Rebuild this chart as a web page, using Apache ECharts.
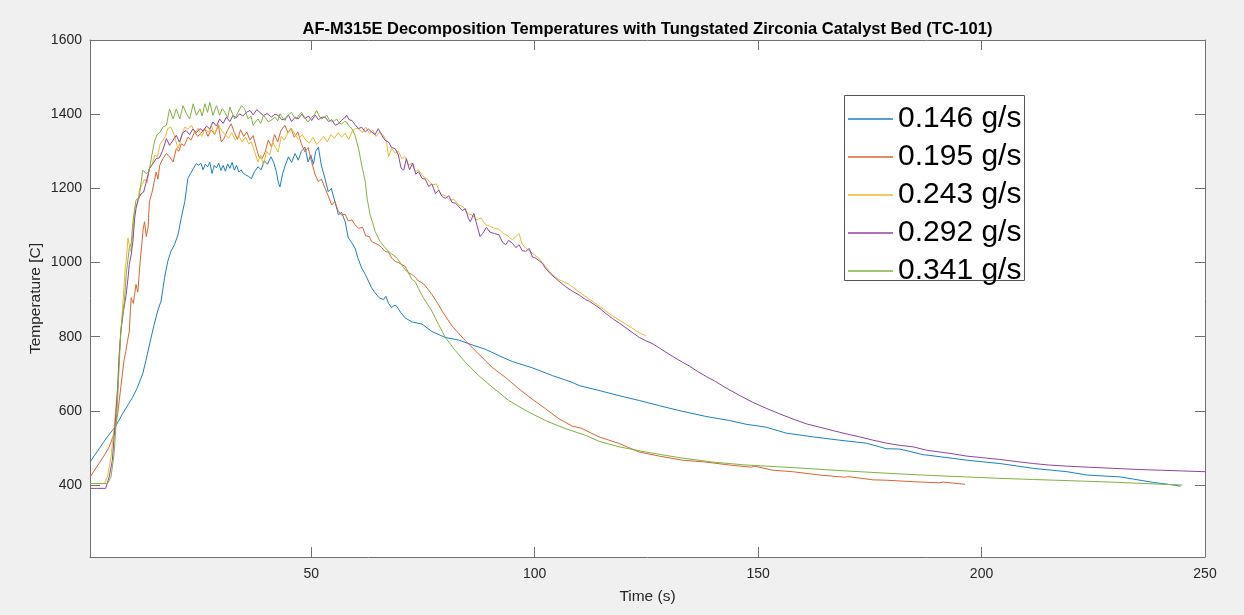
<!DOCTYPE html>
<html>
<head>
<meta charset="utf-8">
<script src="https://cdn.jsdelivr.net/npm/echarts@6/dist/echarts.min.js"></script>
<style>
html,body{margin:0;padding:0;background:#f0f0f0;}
#chart{width:1244px;height:615px;}
</style>
</head>
<body>
<div id="chart"></div>
<script>
const seriesNames = ['0.146 g/s', '0.195 g/s', '0.243 g/s', '0.292 g/s', '0.341 g/s'];
const xTicks = [50, 100, 150, 200, 250];
const yTicks = [400, 600, 800, 1000, 1200, 1400, 1600];

// [time (s), temperature (C)]
const flow0146 = [[0.5,462],[1.5,480],[2.5,497],[3.5,515],[4.5,532],[5.5,547],[6.3,560],[7,575],[8,597],[9.2,620],[10,636],[11,660],[12.3,700],[13,735],[14.1,794],[14.8,830],[15.7,872],[16.4,896],[17.2,960],[17.9,1003],[18.6,1030],[19.4,1048],[20.2,1075],[20.9,1119],[21.7,1164],[22.4,1227],[23,1240],[23.6,1253],[24.3,1267],[24.8,1262],[25.3,1268],[25.8,1250],[26.3,1265],[26.8,1258],[27.3,1270],[27.8,1240],[28.3,1262],[28.8,1255],[29.3,1268],[29.8,1248],[30.3,1262],[30.8,1246],[31.3,1266],[31.8,1254],[32.3,1270],[32.8,1249],[33.3,1262],[33.8,1244],[34.3,1250],[34.8,1240],[35.4,1236],[36,1232],[36.6,1226],[37.3,1245],[38.1,1258],[38.8,1250],[39.5,1275],[40.2,1265],[41,1285],[41.6,1270],[42.2,1245],[42.6,1218],[43,1204],[43.6,1240],[44.2,1262],[44.9,1285],[45.6,1270],[46.4,1294],[47.1,1276],[47.8,1300],[48.6,1311],[49.3,1271],[49.9,1290],[50.5,1265],[51,1300],[51.6,1311],[52.3,1260],[53.1,1226],[53.8,1191],[54.5,1200],[55.3,1164],[56.1,1129],[56.8,1135],[57.6,1110],[58.3,1066],[59,1055],[59.8,1039],[60.5,1010],[61.3,985],[62.1,968],[62.8,950],[63.5,932],[64.3,918],[65.2,905],[66.2,900],[66.7,909],[67.3,890],[68,878],[68.5,884],[69,884],[70,866],[71,851],[72.5,840],[74.8,834],[77,814],[80,798],[83,791],[86,778],[89,766],[92,749],[95,733],[99.5,716],[104,695],[108.4,677],[110,668],[114.4,655],[118.9,641],[123.4,628],[127.9,614],[132.3,601],[138.3,585],[143.6,574],[147.3,564],[151.8,556],[156.3,540],[162.2,530],[168.2,521],[174.2,513],[178.7,498],[181.7,497],[186.9,482],[191,476],[196.7,467],[204.1,458],[211.6,445],[219.1,436],[223.6,427],[228,424],[231,422],[234,416],[238.5,407],[243,400],[244.5,397]];

const flow0195 = [[0.5,421],[1.5,440],[2.5,458],[3.7,480],[4.8,503],[5.9,539],[6.7,592],[7.4,664],[8.1,735],[8.5,760],[8.9,789],[9.3,815],[9.7,905],[10.2,890],[10.8,941],[11.2,920],[11.6,985],[12,1039],[12.4,1090],[12.7,1110],[13.1,1070],[13.5,1095],[13.8,1164],[14.4,1190],[15.3,1244],[15.7,1225],[16.1,1262],[16.8,1280],[17.6,1294],[18.3,1285],[19.1,1271],[19.8,1307],[20.4,1300],[20.9,1320],[21.6,1315],[22.4,1338],[23.1,1330],[23.9,1352],[24.6,1340],[25.3,1348],[26.2,1361],[26.9,1340],[27.6,1358],[28.4,1345],[29.2,1370],[29.9,1325],[30.5,1335],[31.2,1355],[32.1,1374],[32.8,1350],[33.5,1332],[34.2,1358],[34.9,1340],[35.6,1352],[36.3,1330],[37,1342],[37.7,1310],[38.3,1285],[39,1280],[39.7,1298],[40.4,1330],[41.1,1312],[41.8,1345],[42.5,1325],[43.2,1355],[44.1,1370],[44.8,1350],[45.5,1362],[46.2,1338],[47,1352],[47.8,1320],[48.6,1298],[49.3,1310],[50.1,1271],[50.9,1236],[51.6,1218],[52.3,1225],[53.1,1200],[53.8,1180],[54.6,1155],[55.3,1165],[56,1140],[56.8,1128],[57.6,1130],[58.3,1112],[59.1,1115],[59.8,1102],[60.6,1092],[61.5,1095],[62.2,1072],[63,1070],[63.5,1057],[64.3,1052],[65,1048],[65.8,1040],[66.5,1030],[67.3,1028],[68,1012],[68.8,1003],[69.5,1000],[70.3,994],[71,990],[71.8,972],[72.5,968],[73.3,960],[74,950],[74.8,945],[75.5,938],[77,914],[78.2,892],[79.3,869],[81.5,829],[84.5,789],[87.5,753],[90.5,717],[93.5,690],[96.5,659],[99.4,632],[102.4,606],[105.4,579],[108.4,559],[110.5,553],[112.5,541],[114.4,530],[118.9,512],[123.4,489],[127.9,478],[133.1,467],[138.3,462],[143.6,454],[148.5,448],[149.2,451],[153.3,440],[157.7,436],[163.8,427],[169.5,421],[170,423],[175.7,414],[178.7,413],[184.7,409],[190.5,406],[191.4,408],[196.3,402]];

const flow0243 = [[0.5,404],[2,404],[3.7,404],[4.4,422],[5.2,476],[5.9,556],[6.7,664],[7,744],[7.4,815],[7.8,880],[8.1,932],[8.4,990],[8.6,1003],[9,1066],[9.4,1040],[9.7,1030],[10.1,1080],[10.5,1146],[11.2,1164],[11.6,1200],[12.2,1210],[12.7,1225],[13.3,1215],[13.8,1253],[14.4,1265],[15,1290],[15.6,1285],[16.2,1320],[16.8,1329],[17.4,1340],[17.9,1361],[18.6,1365],[19.3,1345],[20.2,1307],[20.6,1320],[21,1345],[21.7,1365],[22.4,1360],[23.2,1370],[24,1350],[24.7,1362],[25.5,1340],[26.2,1360],[27,1352],[27.7,1368],[28.4,1345],[29.2,1372],[30,1355],[30.7,1345],[31.5,1335],[32.2,1350],[33,1330],[33.8,1342],[34.5,1325],[35.3,1338],[36,1320],[36.6,1325],[37.3,1300],[38.1,1271],[38.7,1290],[39.3,1262],[40,1300],[40.7,1290],[41.4,1325],[42,1310],[42.6,1298],[43.3,1340],[44,1330],[44.8,1350],[45.6,1361],[46.4,1345],[47.1,1332],[48,1345],[48.8,1330],[49.6,1322],[50.4,1338],[51.2,1318],[52,1328],[52.8,1340],[53.6,1325],[54.4,1345],[55.2,1335],[56,1350],[56.8,1338],[57.6,1348],[58.4,1332],[59.2,1355],[60,1362],[60.6,1361],[61.4,1350],[62.2,1365],[63,1348],[63.8,1356],[64.5,1340],[65.3,1352],[66,1345],[66.8,1330],[67.3,1285],[68,1307],[68.8,1295],[69.5,1300],[70.3,1280],[71,1285],[71.8,1262],[72.5,1268],[73.3,1245],[74,1250],[75,1232],[76,1225],[77,1209],[78,1212],[79,1185],[80,1180],[81,1168],[82,1170],[83,1155],[84,1150],[85,1132],[86,1128],[87,1115],[88,1120],[89,1102],[90,1098],[91,1092],[92,1090],[93,1078],[94,1072],[95,1061],[95.8,1070],[96.5,1078],[97.2,1050],[98,1039],[99.5,1025],[100.9,1012],[102.4,990],[103.9,968],[105.4,954],[107.7,941],[110.7,914],[114.4,883],[117.4,856],[120.4,834],[123.4,811],[124.9,802]];

const flow0292 = [[0.5,391],[2,391],[4,391],[4.8,422],[5.5,467],[5.9,530],[6.3,592],[6.7,664],[7,744],[7.4,815],[8,870],[8.6,914],[9,958],[9.3,995],[9.7,1020],[10.1,1057],[10.5,1120],[10.8,1146],[11.3,1170],[11.9,1185],[12.5,1190],[13.1,1218],[13.8,1253],[14.5,1265],[15.3,1280],[16,1282],[16.7,1300],[17.6,1334],[18.3,1316],[19.1,1330],[19.8,1343],[20.5,1325],[21.3,1350],[22,1356],[22.8,1345],[23.5,1360],[24.3,1350],[25.1,1361],[25.8,1355],[26.6,1368],[27.3,1360],[28,1379],[28.8,1368],[29.5,1387],[30.3,1375],[31,1392],[31.8,1380],[32.5,1397],[33.2,1390],[34,1401],[34.7,1395],[35.5,1405],[36.3,1410],[37,1398],[37.8,1412],[38.5,1405],[39.3,1396],[40.1,1402],[41.1,1392],[41.9,1400],[42.6,1397],[43.4,1385],[44.1,1387],[44.9,1398],[45.6,1380],[46.4,1392],[47.1,1387],[47.9,1400],[48.6,1388],[49.4,1395],[50.1,1383],[50.9,1398],[51.6,1385],[52.4,1392],[53.1,1392],[53.9,1380],[54.6,1385],[55.4,1370],[56.1,1374],[56.9,1385],[57.5,1390],[57.9,1397],[58.5,1385],[59.1,1383],[59.8,1372],[60.6,1361],[61.3,1365],[62.1,1352],[62.8,1360],[63.5,1352],[64.3,1345],[65,1361],[65.8,1343],[66.5,1330],[67.3,1325],[68,1310],[68.8,1307],[69.5,1290],[70.1,1255],[70.7,1249],[71.3,1280],[72,1250],[72.7,1268],[73.4,1238],[74,1245],[74.8,1227],[75.5,1225],[76.3,1205],[77,1212],[77.8,1186],[78.5,1195],[79.3,1178],[80,1173],[80.8,1180],[81.5,1162],[82.3,1160],[83,1151],[83.8,1140],[84.5,1145],[85.2,1118],[85.6,1110],[86.4,1132],[87.1,1100],[87.8,1070],[88.4,1079],[89.2,1095],[90,1082],[91,1078],[92,1075],[92.8,1055],[93.5,1048],[94.2,1060],[95,1052],[95.8,1040],[96.5,1048],[97.2,1032],[98,1030],[98.8,1038],[99.5,1015],[100.2,1012],[101,1005],[101.7,998],[102.4,985],[103.5,970],[105.4,950],[106.9,935],[108.4,923],[110,912],[111.4,900],[112.2,896],[114.4,878],[116,862],[117.4,849],[119,836],[120.4,824],[122,810],[123.4,798],[124.9,789],[126.4,781],[128,769],[129.4,758],[131,746],[133.1,731],[134.6,721],[136.5,706],[138.5,692],[140.5,679],[142.8,662],[145.8,642],[148.8,623],[151.8,607],[154.8,592],[157.8,578],[160.8,565],[163.8,556],[166.7,547],[169.7,538],[172.7,530],[175.7,521],[178.7,513],[181.7,507],[184.7,503],[187.7,494],[190.7,489],[193.7,484],[196.7,478],[200,474],[204.1,469],[208,463],[211.6,458],[215,454],[219.1,451],[224,448],[229.6,445],[235,442],[240,440],[245,438],[250,436]];

const flow0341 = [[0.5,404],[2,404],[4.4,404],[5.2,422],[5.9,485],[6.3,556],[6.7,637],[7,717],[7.4,815],[7.8,860],[8.2,896],[8.6,968],[9.3,1039],[9.7,1050],[10.1,1110],[10.8,1169],[11.5,1175],[12.3,1249],[13.1,1240],[13.7,1245],[14.2,1280],[14.9,1325],[15.5,1345],[16.1,1350],[16.8,1365],[17.6,1370],[18.3,1414],[19.1,1387],[19.8,1414],[20.6,1387],[21.3,1423],[22.1,1401],[22.8,1387],[23.6,1428],[24.3,1397],[25.1,1414],[25.6,1395],[26.2,1428],[26.8,1405],[27.3,1432],[28,1397],[28.8,1423],[29.5,1397],[30.1,1415],[30.7,1405],[31.3,1390],[31.8,1419],[32.4,1400],[32.9,1387],[33.6,1405],[34.4,1423],[35.1,1414],[35.9,1387],[36.5,1395],[37,1370],[37.6,1380],[38.1,1387],[38.7,1375],[39.3,1397],[39.8,1390],[40.4,1379],[41.2,1385],[41.9,1392],[42.5,1382],[43,1401],[43.6,1390],[44.1,1383],[44.9,1398],[45.6,1405],[46.2,1392],[46.7,1387],[47.3,1398],[47.8,1405],[48.6,1390],[49.3,1379],[50.1,1392],[50.7,1398],[51.2,1410],[51.8,1395],[52.3,1387],[52.9,1392],[53.5,1397],[54,1385],[54.6,1379],[55.2,1382],[55.7,1387],[56.3,1375],[56.8,1374],[57.4,1380],[57.9,1379],[58.5,1368],[59.1,1361],[59.8,1343],[60.2,1325],[60.6,1307],[61.3,1262],[62.1,1218],[62.5,1173],[63.2,1128],[63.8,1105],[64.3,1084],[65.4,1057],[66.5,1040],[67.8,1025],[69.2,1012],[70,998],[71,981],[71.8,972],[72.5,955],[73.3,948],[74,930],[75.1,905],[76,888],[77,869],[78.5,833],[80,798],[82.3,762],[84.5,731],[87.5,695],[90.5,664],[94.2,628],[98,601],[102.4,574],[106.9,552],[111.4,534],[114.4,518],[118.9,503],[124.9,489],[132.3,474],[139.8,462],[147.3,454],[157.8,447],[169.7,438],[181.7,430],[192.2,424],[196.6,422],[204.1,418],[211.6,415],[226.6,409],[244.9,400]];

const seriesData = [flow0146, flow0195, flow0243, flow0292, flow0341];
const colors = ['#1a7fc6', '#dc6430', '#eeb930', '#8c45a0', '#80b340'];

const chart = echarts.init(document.getElementById('chart'), null, {renderer: 'canvas'});
const axisGray = '#707070';
const labelColor = '#262626';
const fontFam = '"Liberation Sans", Arial, Helvetica, sans-serif';

function xAxisDef(pos, showLabel) {
  return {
    type: 'value', position: pos, min: 0.5, max: 250,
    axisLine: {show: true, onZero: false, lineStyle: {color: axisGray, width: 1}},
    axisTick: {show: true, inside: true, length: 10, customValues: xTicks, lineStyle: {color: axisGray, width: 1}},
    axisLabel: {show: showLabel, customValues: xTicks, color: labelColor, fontSize: 14, fontFamily: fontFam, margin: 10,
      formatter: v => String(v)},
    splitLine: {show: false},
    name: showLabel ? 'Time (s)' : '', nameLocation: 'middle', nameGap: 32, nameMoveOverlap: false,
    nameTextStyle: {color: labelColor, fontSize: 15.5, fontFamily: fontFam}
  };
}
function yAxisDef(pos, showLabel) {
  return {
    type: 'value', position: pos, min: 206, max: 1600,
    axisLine: {show: true, onZero: false, lineStyle: {color: axisGray, width: 1}},
    axisTick: {show: true, inside: true, length: 10, customValues: yTicks, lineStyle: {color: axisGray, width: 1}},
    axisLabel: {show: showLabel, customValues: yTicks, color: labelColor, fontSize: 14, fontFamily: fontFam, margin: 8,
      formatter: v => String(v)},
    splitLine: {show: false},
    name: showLabel ? 'Temperature [C]' : '', nameLocation: 'middle', nameGap: 46, nameMoveOverlap: false,
    nameTextStyle: {color: labelColor, fontSize: 15.5, fontFamily: fontFam}
  };
}

const option = {
  backgroundColor: '#f0f0f0',
  animation: false,
  color: colors,
  title: {
    text: 'AF-M315E Decomposition Temperatures with Tungstated Zirconia Catalyst Bed (TC-101)',
    left: 647.5, top: 21, textAlign: 'center', padding: 0,
    textStyle: {fontSize: 16.5, fontWeight: 'bold', color: '#000', fontFamily: fontFam}
  },
  grid: {left: 90, top: 40, width: 1115, height: 517, show: true, backgroundColor: '#ffffff', borderWidth: 0, containLabel: false},
  graphic: [{
    type: 'rect', left: 844, top: 95, z: 3, silent: true,
    shape: {width: 180, height: 185},
    style: {fill: '#ffffff', stroke: '#555555', lineWidth: 1}
  }],
  legend: {
    orient: 'vertical', left: 844, top: 95, z: 5,
    data: seriesNames,
    icon: 'rect', itemWidth: 45, itemHeight: 1.5, itemGap: 8,
    padding: [9, 3, 0, 4],
    textStyle: {fontSize: 30, color: '#000', fontFamily: fontFam}
  },
  xAxis: [xAxisDef('bottom', true), xAxisDef('top', false)],
  yAxis: [yAxisDef('left', true), yAxisDef('right', false)],
  series: seriesNames.map((nm, i) => ({
    name: nm, type: 'line', data: seriesData[i], xAxisIndex: 0, yAxisIndex: 0,
    symbol: 'none', showSymbol: false, smooth: false,
    lineStyle: {width: 1, color: colors[i]}, itemStyle: {color: colors[i]}
  }))
};
chart.setOption(option);
</script>
</body>
</html>
